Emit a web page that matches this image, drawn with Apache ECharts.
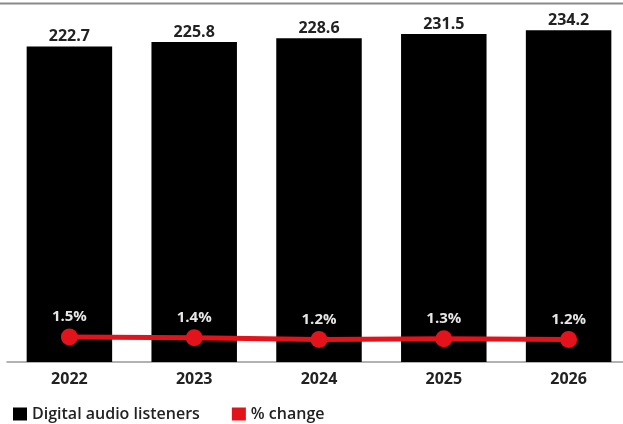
<!DOCTYPE html>
<html><head><meta charset="utf-8">
<script src="https://cdn.jsdelivr.net/npm/echarts@6/dist/echarts.min.js"></script>
<style>html,body{margin:0;padding:0;background:#fff}#c{width:623px;height:424px}</style>
</head><body><div id="c"></div>
<script>
const categories = ['2022', '2023', '2024', '2025', '2026'];
const listeners = [222.7, 225.8, 228.6, 231.5, 234.2];
const pctChange = [1.5, 1.4, 1.2, 1.3, 1.2];
const seriesNames = ['Digital audio listeners', '% change'];

const chart = echarts.init(document.getElementById('c'));
const font = '"Open Sans", Roboto, sans-serif';
chart.setOption({
  animation: false,
  textStyle: { fontFamily: font },
  graphic: [{ type: 'line', shape: { x1: 0, y1: 3.5, x2: 623, y2: 3.5 }, style: { stroke: '#8a8a8a', lineWidth: 2 } }],
  grid: { left: 7, width: 624, top: 22, height: 340, outerBoundsMode: 'none', containLabel: false },
  legend: {
    left: 8, top: 401, itemWidth: 14, itemHeight: 13, itemGap: 32,
    textStyle: { fontSize: 16, color: '#222', fontFamily: font, fontWeight: 600 },
    data: [{ name: seriesNames[0], icon: 'rect' }, { name: seriesNames[1], icon: 'rect' }]
  },
  xAxis: {
    type: 'category', data: categories,
    axisLine: { lineStyle: { color: '#999', width: 1.5 } },
    axisTick: { show: false },
    axisLabel: { fontSize: 16, fontWeight: 'bold', color: '#222', margin: 9 }
  },
  yAxis: [
    { type: 'value', min: 0, max: 240, show: false, splitLine: { show: false } },
    { type: 'value', min: -1.5, max: 39.3, show: false, splitLine: { show: false } }
  ],
  series: [
    {
      name: seriesNames[0], type: 'bar', data: listeners, barWidth: '68.5%',
      itemStyle: { color: '#000' },
      label: { show: true, position: 'top', distance: 2, fontSize: 16, fontWeight: 'bold', color: '#222' }
    },
    {
      name: seriesNames[1], type: 'line', yAxisIndex: 1, data: pctChange,
      symbol: 'circle', symbolSize: 17,
      lineStyle: { color: '#e3131b', width: 5 },
      itemStyle: { color: '#e3131b' },
      label: { show: true, position: 'top', distance: 4, fontSize: 15, fontWeight: 'bold', color: '#e6e6e6', formatter: p => p.value.toFixed(1) + '%' }
    }
  ]
});
</script></body></html>
